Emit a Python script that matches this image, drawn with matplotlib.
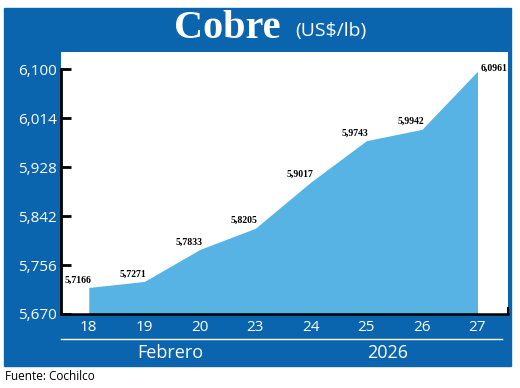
import matplotlib.pyplot as plt
import matplotlib.patches as patches
import numpy as np

dias = ['18', '19', '20', '23', '24', '25', '26', '27']
precios = [5.7166, 5.7271, 5.7833, 5.8205, 5.9017, 5.9743, 5.9942, 6.0961]
etiquetas = ['5,7166', '5,7271', '5,7833', '5,8205', '5,9017', '5,9743', '5,9942', '6,0961']
yticks = [5.670, 5.756, 5.842, 5.928, 6.014, 6.100]
ytick_labels = ['5,670', '5,756', '5,842', '5,928', '6,014', '6,100']

azul = '#0b65ae'
celeste = '#56b3e4'

fig = plt.figure(figsize=(5.2, 3.88), dpi=100)
fig.patch.set_facecolor('white')

# fondo azul
fig.patches.append(patches.Rectangle((4/520, 1-366/388), 507/520, 358/388,
                                     transform=fig.transFigure, color=azul, zorder=-10))

ax = fig.add_axes([61/520, 1-314/388, 447/520, 262/388])
ax.set_facecolor('white')
x = np.arange(len(dias))
ax.fill_between(x, 5.670, precios, color=celeste, linewidth=0)

ax.set_xlim(-0.5, 7.55)
ax.set_ylim(5.670, 6.130)
ax.set_yticks(yticks)
ax.set_yticklabels(ytick_labels)
ax.set_xticks(x)
ax.set_xticklabels(dias)

ax.spines['top'].set_visible(False)
ax.spines['right'].set_bounds(5.670, 5.680)
ax.spines['right'].set_linewidth(1.5)
ax.spines['left'].set_bounds(5.670, 6.100)
ax.spines['left'].set_linewidth(2)
ax.spines['bottom'].set_linewidth(1.8)
ax.tick_params(axis='y', direction='in', length=7, width=2, colors='black',
               labelcolor='white', labelsize=11, pad=3)
ax.tick_params(axis='x', length=0, labelcolor='white', labelsize=11, pad=4)
for t in ax.get_xticklabels() + ax.get_yticklabels():
    t.set_fontfamily('Open Sans')

for i, (v, lab) in enumerate(zip(precios, etiquetas)):
    if i == len(precios) - 1:
        off = (12, 2)
    else:
        off = (-8, 5.5)
    ax.annotate(lab, (i, v), xytext=off, textcoords='offset points',
                ha='center', va='center', fontsize=7, fontweight='bold',
                fontfamily='Liberation Serif', color='black')

# titulo
fig.text(280/520, 1-28/388, 'Cobre', color='white', fontsize=29, fontweight='bold',
         fontfamily='Liberation Serif', ha='right', va='center')
fig.text(295/520, 1-31/388, '(US$/lb)', color='white', fontsize=14,
         fontfamily='Open Sans', ha='left', va='center')

# linea bajo fechas
fig.lines.append(plt.Line2D([61/520, 502/520], [1-339/388, 1-339/388],
                            transform=fig.transFigure, color='white', linewidth=1))
fig.text(170/520, 1-353/388, 'Febrero', color='white', fontsize=13,
         fontfamily='Open Sans', ha='center', va='center')
fig.text(388/520, 1-353/388, '2026', color='white', fontsize=13,
         fontfamily='Open Sans', ha='center', va='center')

fig.text(5/520, 1-377/388, 'Fuente: Cochilco', color='black', fontsize=8.5,
         fontfamily='Open Sans', ha='left', va='center')

plt.savefig('out.png', dpi=100)
